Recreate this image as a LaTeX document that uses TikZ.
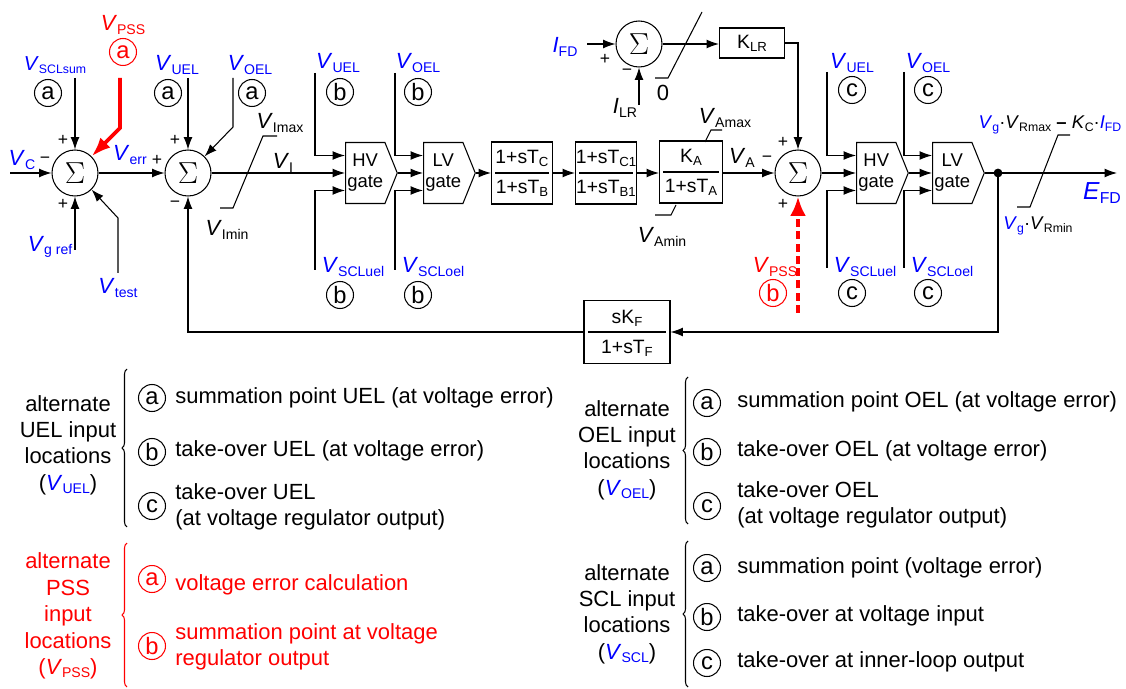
\documentclass[tikz,border=0pt]{standalone}
\usepackage{fontspec}
\setmainfont{Liberation Sans}
\usetikzlibrary{arrows.meta,shapes.symbols,decorations.pathreplacing}
\definecolor{sigblue}{RGB}{0,0,255}
\definecolor{pssred}{RGB}{255,0,0}
\newcommand{\sig}[2]{\textit{#1}\raisebox{-0.3ex}{\fontsize{8}{8}\selectfont #2}}
\newcommand{\ssig}[2]{\textit{#1}\raisebox{-0.3ex}{\fontsize{7}{7}\selectfont #2}}
\newcommand{\bsub}[1]{\raisebox{-0.3ex}{\fontsize{7.5}{7.5}\selectfont #1}}
\tikzset{
  x=0.02cm, y=-0.02cm,
  line/.style={line width=0.6pt},
  sig/.style={-{Latex[length=7pt,width=5pt]}, line width=0.6pt},
  sumnode/.style={circle, draw, line width=0.6pt, minimum size=0.92cm, inner sep=0pt, font=\fontsize{16}{16}\selectfont},
  blk/.style={draw, line width=0.6pt, minimum width=1.22cm, minimum height=1.24cm, inner sep=0pt},
  num/.style={font=\fontsize{11}{11}\selectfont, inner sep=0pt},
  gate/.style={draw, line width=0.6pt, signal, signal to=east, signal pointer angle=136, minimum width=0.86cm, minimum height=1.22cm, inner sep=1pt, align=center, anchor=west, font=\fontsize{10.5}{12}\selectfont},
  loc/.style={circle, draw, line width=0.6pt, minimum size=0.54cm, inner sep=0pt, font=\fontsize{13.5}{13.5}\selectfont},
  lbl/.style={font=\fontsize{12.5}{13}\selectfont, inner sep=0pt},
  pm/.style={font=\fontsize{10}{10}\selectfont, inner sep=0pt},
  tap/.style={circle, fill, minimum size=5pt, inner sep=0pt},
  legtxt/.style={font=\fontsize{12.5}{15}\selectfont, inner sep=0pt, anchor=west, align=left},
  leghead/.style={font=\fontsize{12.5}{15}\selectfont, inner sep=0pt, align=center},
  legbrace/.style={decorate, decoration={brace, amplitude=0.1cm}, line width=0.6pt},
}
\begin{document}
\begin{tikzpicture}
\useasboundingbox (0,0) rectangle (1126,689);
% summing points and blocks
\node[sumnode] (s1) at (75,173) {$\Sigma$};
\node[sumnode] (s2) at (188,173) {$\Sigma$};
\node[sumnode] (s3) at (798,173) {$\Sigma$};
\node[sumnode] (s4) at (639,44) {$\Sigma$};
\node[gate] (hv1) at (345,173) {HV\\gate};
\node[gate] (lv1) at (423,173) {LV\\gate};
\node[gate] (hv2) at (856,173) {HV\\gate};
\node[gate] (lv2) at (932,173) {LV\\gate};
\node[blk] (bc) at (522,173) {};
\draw[line] ([xshift=2.5pt]bc.west) -- ([xshift=-2.5pt]bc.east);
\node[num] (bcn) at ([yshift=8.5pt]bc.center) {1+sT\bsub{C}};
\node[num] (bcd) at ([yshift=-9pt]bc.center) {1+sT\bsub{B}};
\node[blk] (bc1) at (606,173) {};
\draw[line] ([xshift=2.5pt]bc1.west) -- ([xshift=-2.5pt]bc1.east);
\node[num] (bc1n) at ([yshift=8.5pt]bc1.center) {1+sT\bsub{C1}};
\node[num] (bc1d) at ([yshift=-9pt]bc1.center) {1+sT\bsub{B1}};
\node[blk, minimum width=1.26cm] (ka) at (691,172) {};
\draw[line] ([xshift=2.5pt]ka.west) -- ([xshift=-2.5pt]ka.east);
\node[num] (kan) at ([yshift=8.5pt]ka.center) {K\bsub{A}};
\node[num] (kad) at ([yshift=-9pt]ka.center) {1+sT\bsub{A}};
\node[blk, minimum width=1.3cm, minimum height=0.6cm, font=\fontsize{11}{11}\selectfont] (klr) at (752,43) {K\bsub{LR}};
\node[blk, minimum width=1.72cm, minimum height=1.26cm] (fb) at (627,332) {};
\draw[line] ([xshift=2.5pt]fb.west) -- ([xshift=-2.5pt]fb.east);
\node[num] (fbn) at ([yshift=8pt]fb.center) {sK\bsub{F}};
\node[num] (fbd) at ([yshift=-9.5pt]fb.center) {1+sT\bsub{F}};
\node[tap] (tap) at (998,173) {};
\coordinate (efd) at (1117,173);

% inputs of the first summing point
\node[lbl, text=sigblue] (lvc) at (22,160) {\sig{V}{C}};
\node[pm] (m1) at (45,160) {−};
\node[pm] (p1a) at (63,140) {+};
\node[pm] (p1b) at (63,204) {+};
\node[lbl, text=sigblue, font=\fontsize{11.5}{12}\selectfont] (lsclsum) at (55,65) {\ssig{V}{SCLsum}};
\node[loc] (c1) at (48,93) {a};
\node[lbl, text=pssred] (lpssa) at (123,25) {\sig{V}{PSS}};
\node[loc, draw=pssred, text=pssred] (cpa) at (123,52) {a};
\node[lbl, text=sigblue] (lgref) at (50,247) {\sig{V}{g ref}};
\node[lbl, text=sigblue] (ltest) at (118,288) {\sig{V}{test}};
\coordinate (vcin) at (10,173);
\draw[sig] (vcin) -- (s1.west);
\draw[sig] (75,78) -- (s1.north);
\draw[sig] (75,250) -- (s1.south);
\draw[sig] (118,273) -- (118,218) -- (s1.south east);
\draw[pssred, line width=2.2pt, -{Latex[length=11pt,width=8pt]}] (120,78) -- (120,128) -- (s1.north east);

% second summing point
\node[lbl, text=sigblue] (lerr) at (130,155) {\sig{V}{err}};
\node[pm] (p2a) at (157,160) {+};
\node[pm] (p2b) at (175,140) {+};
\node[pm] (m2) at (175,204) {−};
\node[lbl, text=sigblue] (luela) at (177,65) {\sig{V}{UEL}};
\node[loc] (c2) at (168,93) {a};
\node[lbl, text=sigblue] (loela) at (250,65) {\sig{V}{OEL}};
\node[loc] (c3) at (252,93) {a};
\draw[sig] (s1.east) -- (s2.west);
\draw[sig] (188,78) -- (s2.north);
\draw[sig] (233,78) -- (233,127) -- (s2.north east);
\node[lbl] (lvi) at (283,163) {\sig{V}{I}};
\draw[sig] (s2.east) -- (hv1.west);
\draw[line] (277,136) -- (263,136) -- (233,208) -- (220,208);
\node[lbl] (lvimax) at (280,123) {\sig{V}{Imax}};
\node[lbl] (lvimin) at (227,230) {\sig{V}{Imin}};

% take-over gates at the voltage error
\node[lbl, text=sigblue] (luelb) at (338,63) {\sig{V}{UEL}};
\node[loc] (c4) at (340,92) {b};
\node[lbl, text=sigblue] (lscluelb) at (353,267) {\sig{V}{SCLuel}};
\node[loc] (c5) at (340,295) {b};
\node[lbl, text=sigblue] (loelb) at (418,63) {\sig{V}{OEL}};
\node[loc] (c6) at (418,92) {b};
\node[lbl, text=sigblue] (lscloelb) at (433,267) {\sig{V}{SCLoel}};
\node[loc] (c7) at (418,295) {b};
\draw[sig] (315,73) |- ([yshift=0.35cm]hv1.west);
\draw[sig] (315,270) |- ([yshift=-0.35cm]hv1.west);
\draw[sig] (395,73) |- ([yshift=0.35cm]lv1.west);
\draw[sig] (395,270) |- ([yshift=-0.35cm]lv1.west);
\draw[sig] (hv1.east) -- (lv1.west);
\draw[sig] (lv1.east) -- (bc.west);
\draw[sig] (bc.east) -- (bc1.west);
\draw[sig] (bc1.east) -- (ka.west |- bc1.east);
\draw[line] (705,142) -- (711,130) -- (722,130);
\node[lbl] (lvamax) at (725,118) {\sig{V}{Amax}};
\draw[line] (655,215) -- (671,215) -- (676,205);
\node[lbl] (lvamin) at (662,237) {\sig{V}{Amin}};
\node[lbl] (lva) at (742,158) {\sig{V}{A}};
\node[pm] (m3) at (767,159) {−};
\node[pm] (p3a) at (783,142) {+};
\node[pm] (p3b) at (783,204) {+};
\draw[sig] (ka.east |- s3.west) -- (s3.west);

% field current limiter
\node[lbl, text=sigblue] (lifd) at (565,47) {\sig{I}{FD}};
\node[pm] (p4) at (605,59) {+};
\node[pm] (m4) at (627,72) {−};
\node[lbl] (lilr) at (625,108) {\sig{I}{LR}};
\coordinate (ifdin) at (587,44);
\coordinate (ilrin) at (639,105);
\draw[sig] (ifdin) -- (s4.west);
\draw[sig] (ilrin) -- (s4.south);
\draw[sig] (s4.east) -- (klr.west |- s4.east);
\draw[line] (655,78) -- (668,78) -- (702,12);
\node[lbl] (lzero) at (663,93) {0};
\draw[sig] (klr.east) -| (s3.north);

% PSS at the regulator output
\node[lbl, text=pssred] (lpssb) at (775,267) {\sig{V}{PSS}};
\node[loc, draw=pssred, text=pssred] (cpb) at (773,293) {b};
\draw[pssred, line width=2.2pt, dash pattern=on 4.5pt off 2.5pt, -{Latex[length=11pt,width=9pt]}] (798,313) -- (s3.south);

% take-over gates at the regulator output
\node[lbl, text=sigblue] (luelc) at (852,63) {\sig{V}{UEL}};
\node[loc] (c8) at (852,90) {c};
\node[lbl, text=sigblue] (lscluelc) at (865,267) {\sig{V}{SCLuel}};
\node[loc] (c9) at (852,293) {c};
\node[lbl, text=sigblue] (loelc) at (928,63) {\sig{V}{OEL}};
\node[loc] (c10) at (928,90) {c};
\node[lbl, text=sigblue] (lscloelc) at (942,267) {\sig{V}{SCLoel}};
\node[loc] (c11) at (928,293) {c};
\draw[sig] (s3.east) -- (hv2.west);
\draw[sig] (827,72) |- ([yshift=0.35cm]hv2.west);
\draw[sig] (827,268) |- ([yshift=-0.35cm]hv2.west);
\draw[sig] (904,72) |- ([yshift=0.35cm]lv2.west);
\draw[sig] (904,268) |- ([yshift=-0.35cm]lv2.west);
\draw[sig] (hv2.east) -- (lv2.west);
\draw[sig] (lv2.east) -- (efd);
\node[lbl, text=sigblue, font=\fontsize{14}{14}\selectfont] (lefd) at (1102,193) {\textit{E}\raisebox{-0.3ex}{\fontsize{9}{9}\selectfont FD}};
\draw[line] (1070,135) -- (1058,135) -- (1030,207) -- (1017,207);
\node[lbl, font=\fontsize{10.5}{12}\selectfont] (lvrmax) at (1050,125) {\textcolor{sigblue}{\ssig{V}{g}}·\ssig{V}{Rmax} \textbf{–} \ssig{K}{C}·\textcolor{sigblue}{\ssig{I}{FD}}};
\node[lbl, font=\fontsize{10.5}{12}\selectfont] (lvrmin) at (1038,226) {\textcolor{sigblue}{\ssig{V}{g}}·\ssig{V}{Rmin}};

% feedback
\draw[sig] (tap.center) |- (fb.east);
\draw[sig] (fb.west) -| (s2.south);

% legend UEL
\node[leghead] (huel) at (68,445) {alternate\\UEL input\\locations\\(\textcolor{sigblue}{\sig{V}{UEL}})};
\draw[legbrace] (127,527) -- (127,369);
\node[loc] (luA) at (152,398) {a};
\node[legtxt] (tuA) at (175,398) {summation point UEL (at voltage error)};
\node[loc] (luB) at (152,452) {b};
\node[legtxt] (tuB) at (175,451) {take-over UEL (at voltage error)};
\node[loc] (luC) at (152,506) {c};
\node[legtxt] (tuC) at (175,507) {take-over UEL\\(at voltage regulator output)};

% legend PSS
\node[leghead, text=pssred] (hpss) at (68,616) {alternate\\PSS\\input\\locations\\(\sig{V}{PSS})};
\draw[legbrace, pssred] (127,687) -- (127,543);
\node[loc, draw=pssred, text=pssred] (lpA) at (152,579) {a};
\node[legtxt, text=pssred] (tpA) at (175,585) {voltage error calculation};
\node[loc, draw=pssred, text=pssred] (lpB) at (152,646) {b};
\node[legtxt, text=pssred] (tpB) at (175,647) {summation point at voltage\\regulator output};

% legend OEL
\node[leghead] (hoel) at (627,450) {alternate\\OEL input\\locations\\(\textcolor{sigblue}{\sig{V}{OEL}})};
\draw[legbrace] (688,524) -- (688,377);
\node[loc] (loA) at (707,403) {a};
\node[legtxt] (toA) at (737,402) {summation point OEL (at voltage error)};
\node[loc] (loB) at (707,452) {b};
\node[legtxt] (toB) at (737,451) {take-over OEL (at voltage error)};
\node[loc] (loC) at (707,506) {c};
\node[legtxt] (toC) at (737,505) {take-over OEL\\(at voltage regulator output)};

% legend SCL
\node[leghead] (hscl) at (627,614) {alternate\\SCL input\\locations\\(\textcolor{sigblue}{\sig{V}{SCL}})};
\draw[legbrace] (688,687) -- (688,541);
\node[loc] (lsA) at (707,568) {a};
\node[legtxt] (tsA) at (737,568) {summation point (voltage error)};
\node[loc] (lsB) at (707,617) {b};
\node[legtxt] (tsB) at (737,616) {take-over at voltage input};
\node[loc] (lsC) at (707,663) {c};
\node[legtxt] (tsC) at (737,662) {take-over at inner-loop output};
\end{tikzpicture}
\end{document}
